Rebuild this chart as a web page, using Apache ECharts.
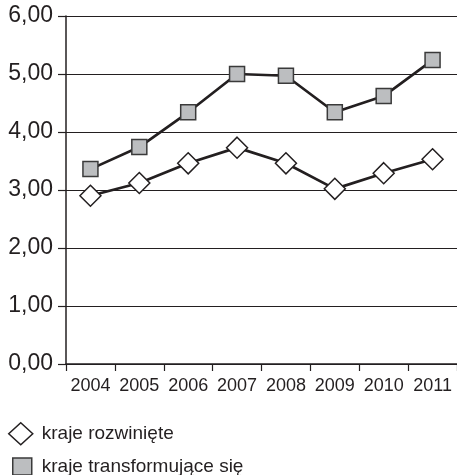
<!DOCTYPE html>
<html>
<head>
<meta charset="utf-8">
<script src="https://cdn.jsdelivr.net/npm/echarts@6/dist/echarts.min.js"></script>
<style>
  html, body { margin: 0; padding: 0; background: #fff; }
  #main { width: 457px; height: 475px; }
</style>
</head>
<body>
<div id="main"></div>
<script>
var years = ['2004', '2005', '2006', '2007', '2008', '2009', '2010', '2011'];
var rozwiniete = [2.90, 3.12, 3.46, 3.73, 3.46, 3.02, 3.29, 3.53];
var transformujace = [3.36, 3.74, 4.34, 5.00, 4.97, 4.34, 4.62, 5.24];
var names = ['kraje rozwinięte', 'kraje transformujące się'];

var ink = '#231f20';
var font = '"Liberation Sans", Arial, sans-serif';

var chart = echarts.init(document.getElementById('main'), null, { renderer: 'canvas' });

var option = {
  animation: false,
  grid: {
    left: 66,
    right: -6,
    top: 16,
    bottom: 111
  },
  legend: [
    {
      orient: 'vertical',
      left: 8,
      top: 422,
      padding: 0,
      itemWidth: 24,
      itemHeight: 22,
      data: [{
        name: names[0],
        icon: 'diamond',
        itemStyle: { color: '#fff', borderColor: ink, borderWidth: 1.5 }
      }],
      textStyle: { color: ink, fontSize: 19, fontFamily: font, padding: [0, 0, 0, 4] }
    },
    {
      orient: 'vertical',
      left: 12,
      top: 457,
      padding: 0,
      itemWidth: 19,
      itemHeight: 17,
      data: [{
        name: names[1],
        icon: 'rect',
        itemStyle: { color: '#bcbec0', borderColor: '#3a3a3a', borderWidth: 1.5 }
      }],
      textStyle: { color: ink, fontSize: 19, fontFamily: font, padding: [0, 0, 0, 5] }
    }
  ],
  xAxis: {
    type: 'category',
    data: years,
    boundaryGap: true,
    axisLine: { lineStyle: { color: ink, width: 1.5 } },
    axisTick: { show: true, length: 7, interval: 0, lineStyle: { color: ink, width: 1.2 } },
    axisLabel: { color: ink, fontSize: 18, fontFamily: font, margin: 13, interval: 0 }
  },
  yAxis: {
    type: 'value',
    min: 0,
    max: 6,
    interval: 1,
    axisLine: { show: true, lineStyle: { color: ink, width: 1.5 } },
    axisTick: { show: true, length: 8, lineStyle: { color: ink, width: 1.2 } },
    splitLine: { show: true, lineStyle: { color: ink, width: 1.2 } },
    axisLabel: {
      color: ink,
      fontSize: 23,
      fontFamily: font,
      margin: 13,
      formatter: function (v) { return v.toFixed(2).replace('.', ','); }
    }
  },
  series: [
    {
      name: names[0],
      type: 'line',
      data: rozwiniete,
      symbol: 'diamond',
      symbolSize: [21, 21],
      lineStyle: { color: ink, width: 2.7 },
      itemStyle: { color: '#fff', borderColor: ink, borderWidth: 1.5 },
      z: 3
    },
    {
      name: names[1],
      type: 'line',
      data: transformujace,
      symbol: 'rect',
      symbolSize: [15, 15],
      lineStyle: { color: ink, width: 2.7 },
      itemStyle: { color: '#bcbec0', borderColor: '#3a3a3a', borderWidth: 1.5 },
      z: 4
    }
  ]
};

chart.setOption(option);
</script>
</body>
</html>
